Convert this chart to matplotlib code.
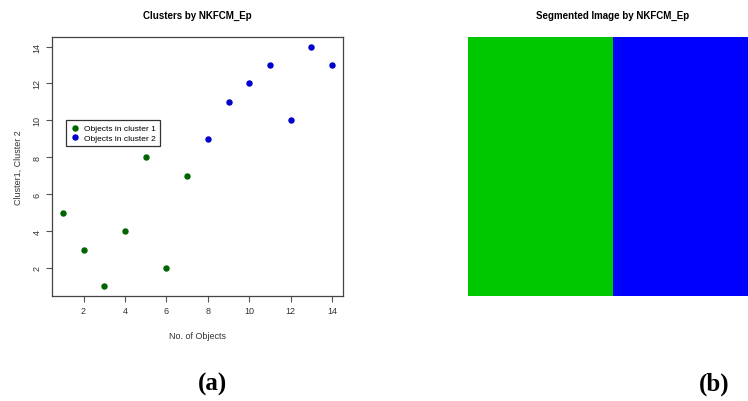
import numpy as np
import matplotlib
matplotlib.use("Agg")
import matplotlib.pyplot as plt

# object index and cluster value
c1_x = [1, 2, 3, 4, 5, 6, 7]
c1_y = [5, 3, 1, 4, 8, 2, 7]
c2_x = [8, 9, 10, 11, 12, 13, 14]
c2_y = [9, 11, 12, 13, 10, 14, 13]

# segmented image: one row, two segments
seg_labels = [[1, 2]]
seg_colors = ["#00C800", "#0000FF"]

plt.rcParams['font.family'] = ['Liberation Sans', 'DejaVu Sans']

fig = plt.figure(figsize=(7.48, 4.02), dpi=100)
W, H = 748, 402

def box(l, t, r, b):
    return [l / W, 1 - b / H, (r - l) / W, (b - t) / H]

ax = fig.add_axes(box(52, 38, 343, 297))
ax.scatter(c1_x, c1_y, s=13, color="#006400", marker="o", label="Objects in cluster 1", zorder=3)
ax.scatter(c2_x, c2_y, s=13, color="#0000CD", marker="o", label="Objects in cluster 2", zorder=3)
ax.set_xlim(0.48, 14.52)
ax.set_ylim(0.48, 14.52)
ax.set_xticks([2, 4, 6, 8, 10, 12, 14])
ax.set_yticks([2, 4, 6, 8, 10, 12, 14])
ax.tick_params(labelsize=6.5, length=4, color="#555555", labelcolor="#333333")
for lab in ax.get_yticklabels():
    lab.set_rotation(90)
    lab.set_va("center")
for sp in ax.spines.values():
    sp.set_color("#444444")
    sp.set_linewidth(0.9)
ax.set_title("Clusters by NKFCM_Ep", fontsize=7, fontweight="bold", pad=14)
ax.set_xlabel("No. of Objects", fontsize=6.5, color="#333333", labelpad=11)
ax.set_ylabel("Cluster1, Cluster 2", fontsize=6.5, color="#333333", labelpad=7)
leg = ax.legend(loc="upper left", bbox_to_anchor=(0.033, 0.695), fontsize=6,
                fancybox=False, edgecolor="#333333", framealpha=1,
                handletextpad=0.5, borderpad=0.5, labelspacing=0.2, handlelength=1.2)
leg.get_frame().set_linewidth(0.9)

ax2 = fig.add_axes(box(468, 38, 758, 297))
cmap = matplotlib.colors.ListedColormap(seg_colors)
ax2.imshow(np.array(seg_labels), cmap=cmap, aspect="auto", interpolation="nearest")
ax2.set_axis_off()
ax2.set_title("Segmented Image by NKFCM_Ep", fontsize=7, fontweight="bold", pad=14)

fig.text(212 / W, 1 - 384 / H, "(a)", fontsize=18, fontweight="bold",
         family="Liberation Serif", ha="center", va="center")
fig.text(714 / W, 1 - 384 / H, "(b)", fontsize=18, fontweight="bold",
         family="Liberation Serif", ha="center", va="center")

fig.savefig("out.png", dpi=100)
